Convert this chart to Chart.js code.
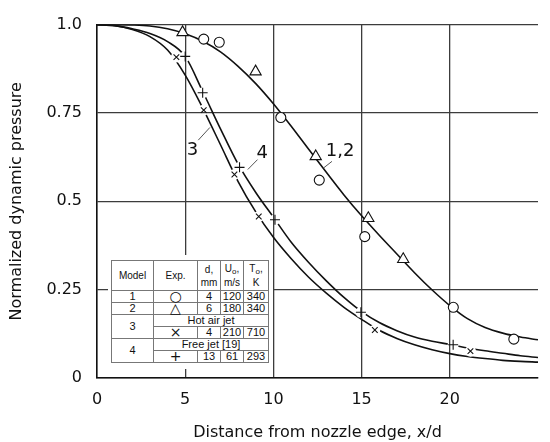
<!DOCTYPE html>
<html>
<head>
<meta charset="utf-8">
<script src="https://cdn.jsdelivr.net/npm/chart.js@4.4.0/dist/chart.umd.min.js"></script>
<style>
  html, body { margin: 0; padding: 0; background: #fff; }
  #wrap { position: relative; width: 550px; height: 442px; }
  #legend-box { position: absolute; left: 108px; top: 255px; width: 165px; height: 114px; background: #fff; }
  #legend-table {
    position: absolute; left: 3px; top: 5px;
    border-collapse: collapse; table-layout: fixed;
    font-family: "Liberation Sans", Arial, sans-serif; font-size: 11px; color: #111;
  }
  #legend-table td { border: 1px solid #777; padding: 0; text-align: center; height: 11px; line-height: 11px; white-space: nowrap; color: #111; }
  #legend-table tr.head td { height: 29px; line-height: 13px; font-size: 10px; }
  #legend-table td.glyph { font-family: "DejaVu Sans", sans-serif; font-size: 14px; }
  .sub { font-size: 8px; position: relative; top: 2px; color: #111; }
</style>
</head>
<body>
<div id="wrap">
  <canvas id="chart" width="550" height="442"></canvas>
  <div id="legend-box"><table id="legend-table"></table></div>
</div>
<script>
// curves
const curveX = [0, 1, 2, 3, 4, 5, 6, 7, 8, 9, 10, 11, 12, 13, 14, 15, 16, 17, 18, 19, 20, 21, 22, 23, 24, 25];
const curve12Y = [1.0, 1.0, 0.999, 0.996, 0.988, 0.974, 0.953, 0.923, 0.882, 0.833, 0.776, 0.713, 0.647, 0.582, 0.518, 0.459, 0.404, 0.351, 0.298, 0.249, 0.205, 0.168, 0.143, 0.127, 0.116, 0.108];
const curve3Y = [1.0, 0.997, 0.986, 0.966, 0.928, 0.857, 0.763, 0.66, 0.556, 0.47, 0.398, 0.338, 0.285, 0.24, 0.2, 0.166, 0.135, 0.112, 0.094, 0.08, 0.069, 0.061, 0.055, 0.05, 0.047, 0.045];
const curve4Y = [1.0, 0.997, 0.988, 0.975, 0.952, 0.91, 0.81, 0.705, 0.605, 0.525, 0.455, 0.385, 0.327, 0.275, 0.228, 0.188, 0.157, 0.134, 0.116, 0.104, 0.095, 0.085, 0.077, 0.07, 0.063, 0.058];

// experimental points
const model1X = [6.05, 6.93, 10.42, 12.6, 15.18, 20.2, 23.63];
const model1Y = [0.959, 0.95, 0.737, 0.56, 0.40, 0.20, 0.11];
const model2X = [4.85, 8.99, 12.4, 15.38, 17.36];
const model2Y = [0.978, 0.867, 0.627, 0.452, 0.336];
const model3X = [4.5, 6.05, 7.79, 9.17, 15.75, 21.17];
const model3Y = [0.908, 0.758, 0.576, 0.457, 0.136, 0.076];
const model4X = [5.0, 5.99, 8.08, 10.09, 14.96, 20.19];
const model4Y = [0.91, 0.807, 0.596, 0.448, 0.186, 0.094];

// ticks
const xTicks = [0, 5, 10, 15, 20, 25];
const xTickLabels = ['0', '5', '10', '15', '20', ''];
const yTicks = [0, 0.25, 0.5, 0.75, 1];
const yTickLabels = ['0', '0.25', '0.5', '0.75', '1.0'];

// curve labels with leader lines (data units)
const curveLabels = ['3', '4', '1,2'];
const curveLabelX = [5.41, 9.37, 13.78];
const curveLabelY = [0.643, 0.637, 0.641];
const leaderX1 = [5.74, 8.55, 12.86];
const leaderY1 = [0.673, 0.59, 0.595];
const leaderX2 = [6.4, 9.1, 13.32];
const leaderY2 = [0.709, 0.618, 0.613];

// table
const modelIds = ['1', '2', '3', '4'];
const markerGlyphs = ['○', '△', '×', '+'];
const nozzleD = [4, 6, 4, 13];
const exitU = [120, 180, 210, 61];
const exitT = [340, 340, 710, 293];
const groupNotes = ['', '', 'Hot air jet', 'Free jet [19]'];

const FONT = '"DejaVu Sans", "Liberation Sans", sans-serif';

function pts(xs, ys) {
    return xs.map((x, i) => ({ x: x, y: ys[i] }));
}

function curve(ys) {
    return {
        data: pts(curveX, ys),
        isCurve: true,
        showLine: true,
        borderColor: '#111',
        borderWidth: 1.6,
        pointRadius: 0,
        cubicInterpolationMode: 'monotone',
        order: 3,
    };
}

function markers(xs, ys, style, r) {
    return {
        data: pts(xs, ys),
        showLine: false,
        pointStyle: style,
        pointRadius: r,
        pointBorderColor: '#111',
        pointBorderWidth: 1.1,
        pointBackgroundColor: '#fff',
        order: 1,
    };
}

// build table
(function buildTable() {
    const rows = [];
    rows.push('<colgroup><col style="width:42px"><col style="width:44px"><col style="width:23px"><col style="width:23px"><col style="width:25px"></colgroup>');
    rows.push('<tr class="head"><td>Model</td><td>Exp.</td><td>d,<br>mm</td><td>U<span class="sub">o</span>,<br>m/s</td><td>T<span class="sub">o</span>,<br>K</td></tr>');
    for (let i = 0; i < modelIds.length; i++) {
        const cells = '<td class="glyph">' + markerGlyphs[i] + '</td><td>' + nozzleD[i] + '</td><td>' + exitU[i] + '</td><td>' + exitT[i] + '</td>';
        if (groupNotes[i]) {
            rows.push('<tr><td rowspan="2">' + modelIds[i] + '</td><td colspan="4">' + groupNotes[i] + '</td></tr>');
            rows.push('<tr>' + cells + '</tr>');
        } else {
            rows.push('<tr><td>' + modelIds[i] + '</td>' + cells + '</tr>');
        }
    }
    document.getElementById('legend-table').innerHTML = rows.join('');
})();

// curves break around the x and + markers, as in the original figure
const gapPlugin = {
    id: 'markerGaps',
    beforeDatasetDraw(chart, args) {
        if (!chart.data.datasets[args.index].isCurve) return;
        const ctx = chart.ctx;
        const x = chart.scales.x, y = chart.scales.y;
        const r = 5.5;
        ctx.save();
        ctx.beginPath();
        ctx.rect(0, 0, chart.width, chart.height);
        [[model3X, model3Y], [model4X, model4Y]].forEach(([xs, ys]) => {
            xs.forEach((v, i) => {
                const px = x.getPixelForValue(v), py = y.getPixelForValue(ys[i]);
                ctx.moveTo(px + r, py);
                ctx.arc(px, py, r, 0, Math.PI * 2, true);
            });
        });
        ctx.clip('evenodd');
    },
    afterDatasetDraw(chart, args) {
        if (!chart.data.datasets[args.index].isCurve) return;
        chart.ctx.restore();
    }
};

const labelPlugin = {
    id: 'curveLabels',
    afterDatasetsDraw(chart) {
        const ctx = chart.ctx;
        const x = chart.scales.x, y = chart.scales.y;
        ctx.save();
        ctx.strokeStyle = '#555';
        ctx.lineWidth = 1;
        for (let i = 0; i < curveLabels.length; i++) {
            ctx.beginPath();
            ctx.moveTo(x.getPixelForValue(leaderX1[i]), y.getPixelForValue(leaderY1[i]));
            ctx.lineTo(x.getPixelForValue(leaderX2[i]), y.getPixelForValue(leaderY2[i]));
            ctx.stroke();
        }
        ctx.fillStyle = '#111';
        ctx.font = '18px ' + FONT;
        ctx.textAlign = 'center';
        ctx.textBaseline = 'middle';
        for (let i = 0; i < curveLabels.length; i++) {
            ctx.fillText(curveLabels[i], x.getPixelForValue(curveLabelX[i]), y.getPixelForValue(curveLabelY[i]));
        }
        ctx.restore();
    }
};

const gridColor = '#3c3c3c';

new Chart(document.getElementById('chart').getContext('2d'), {
    type: 'scatter',
    data: {
        datasets: [
            markers(model1X, model1Y, 'circle', 5),
            markers(model2X, model2Y, 'triangle', 6.5),
            markers(model3X, model3Y, 'crossRot', 4),
            markers(model4X, model4Y, 'cross', 5),
            curve(curve12Y),
            curve(curve3Y),
            curve(curve4Y),
        ],
    },
    options: {
        responsive: false,
        devicePixelRatio: 1,
        animation: false,
        layout: { padding: { top: 17, right: 0, left: 0, bottom: 0 } },
        plugins: { legend: { display: false }, tooltip: { enabled: false } },
        scales: {
            x: {
                type: 'linear',
                min: 0,
                max: 25,
                afterBuildTicks: (scale) => { scale.ticks = xTicks.map(v => ({ value: v })); },
                afterFit: (scale) => { scale.height = 64; },
                ticks: {
                    padding: 12,
                    maxRotation: 0,
                    autoSkip: false,
                    color: '#111',
                    font: { family: FONT, size: 16 },
                    callback: (v, i) => xTickLabels[i],
                },
                grid: {
                    drawTicks: false,
                    lineWidth: 1.3,
                    color: (c) => (c.tick && c.tick.value === 25 ? 'rgba(0,0,0,0)' : gridColor),
                },
                border: { display: true, color: '#111', width: 1.5 },
                title: {
                    display: true,
                    text: 'Distance from nozzle edge, x/d',
                    color: '#111',
                    font: { family: FONT, size: 16 },
                    padding: { top: 0, bottom: 0 },
                },
            },
            y: {
                type: 'linear',
                min: 0,
                max: 1,
                afterBuildTicks: (scale) => { scale.ticks = yTicks.map(v => ({ value: v })); },
                afterFit: (scale) => { scale.width = 97; },
                ticks: {
                    padding: 15,
                    color: '#111',
                    font: { family: FONT, size: 16 },
                    callback: (v, i) => yTickLabels[i],
                },
                grid: { drawTicks: false, lineWidth: 1.3, color: gridColor },
                border: { display: true, color: '#111', width: 1.5 },
                title: {
                    display: true,
                    text: 'Normalized dynamic pressure',
                    color: '#111',
                    font: { family: FONT, size: 16 },
                    padding: { top: 7, bottom: 0 },
                },
            },
        },
    },
    plugins: [gapPlugin, labelPlugin],
});
</script>
</body>
</html>
